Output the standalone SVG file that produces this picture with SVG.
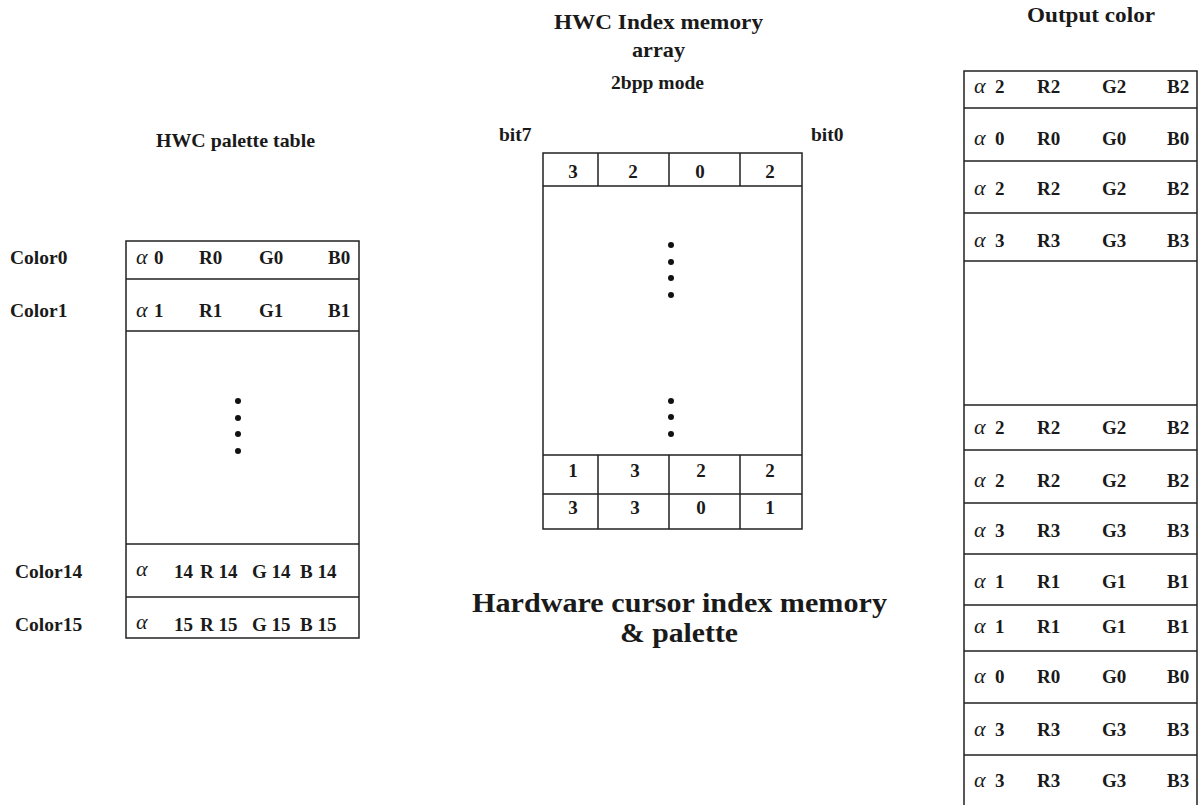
<svg xmlns="http://www.w3.org/2000/svg" width="1203" height="805" viewBox="0 0 1203 805">
<style>
.t{font-family:"Liberation Serif","Times New Roman",serif;font-weight:bold;fill:#1a1a1a;font-size:19px}
.lbl{font-size:19.5px}
.a{font-family:"Liberation Serif","Times New Roman",serif;font-style:italic;font-weight:normal;fill:#1a1a1a;font-size:22px}
.m{text-anchor:middle}
.box{fill:#fff;stroke:#222;stroke-width:1.5}
.ln{stroke:#222;stroke-width:1.5;fill:none}
.dot{fill:#111}
</style>
<rect width="1203" height="805" fill="#fff"/>
<g id="connectors"/>

<g id="palette-table">
  <text class="t lbl" x="156" y="147" textLength="159" lengthAdjust="spacingAndGlyphs">HWC palette table</text>
  <text class="t lbl" x="10" y="264">Color0</text>
  <text class="t lbl" x="10" y="317">Color1</text>
  <text class="t lbl" x="15" y="578">Color14</text>
  <text class="t lbl" x="15" y="631">Color15</text>
  <rect class="box" x="126" y="241" width="233" height="397"/>
  <path class="ln" d="M126 279H359M126 331H359M126 544H359M126 597H359"/>
  <text class="a" x="136" y="264">α</text><text class="t" x="154" y="264">0</text>
  <text class="t" x="199" y="264">R0</text><text class="t" x="259" y="264">G0</text><text class="t" x="328" y="264">B0</text>
  <text class="a" x="136" y="317">α</text><text class="t" x="154" y="317">1</text>
  <text class="t" x="199" y="317">R1</text><text class="t" x="259" y="317">G1</text><text class="t" x="328" y="317">B1</text>
  <circle class="dot" cx="238" cy="401" r="3"/><circle class="dot" cx="238" cy="418" r="3"/>
  <circle class="dot" cx="238" cy="434" r="3"/><circle class="dot" cx="238" cy="451" r="3"/>
  <text class="a" x="136" y="576">α</text>
  <text class="t" x="174" y="578">14</text><text class="t" x="200" y="578">R 14</text><text class="t" x="252" y="578">G 14</text><text class="t" x="300" y="578">B 14</text>
  <text class="a" x="136" y="629">α</text>
  <text class="t" x="174" y="631">15</text><text class="t" x="200" y="631">R 15</text><text class="t" x="252" y="631">G 15</text><text class="t" x="300" y="631">B 15</text>
</g>

<g id="index-table">
  <text class="t" style="font-size:21px" x="554" y="29" textLength="209" lengthAdjust="spacingAndGlyphs">HWC Index memory</text>
  <text class="t" style="font-size:21px" x="632" y="57" textLength="53" lengthAdjust="spacingAndGlyphs">array</text>
  <text class="t" x="611" y="89" textLength="93" lengthAdjust="spacingAndGlyphs">2bpp mode</text>
  <text class="t lbl" x="499" y="141">bit7</text>
  <text class="t lbl" x="811" y="141">bit0</text>
  <rect class="box" x="543" y="153" width="259" height="376"/>
  <path class="ln" d="M543 186H802M543 455H802M543 494H802M598 153V186M669 153V186M740 153V186M598 455V529M669 455V529M740 455V529"/>
  <text class="t m" x="573" y="178">3</text><text class="t m" x="633" y="178">2</text><text class="t m" x="700" y="178">0</text><text class="t m" x="770" y="178">2</text>
  <circle class="dot" cx="671" cy="245" r="3"/><circle class="dot" cx="671" cy="262" r="3"/>
  <circle class="dot" cx="671" cy="278" r="3"/><circle class="dot" cx="671" cy="295" r="3"/>
  <circle class="dot" cx="671" cy="401" r="3"/><circle class="dot" cx="671" cy="417" r="3"/>
  <circle class="dot" cx="671" cy="434" r="3"/>
  <text class="t m" x="573" y="477">1</text><text class="t m" x="635" y="477">3</text><text class="t m" x="701" y="477">2</text><text class="t m" x="770" y="477">2</text>
  <text class="t m" x="573" y="514">3</text><text class="t m" x="635" y="514">3</text><text class="t m" x="701" y="514">0</text><text class="t m" x="770" y="514">1</text>
</g>

<g id="main-title">
  <text class="t" style="font-size:28px" x="472" y="612" textLength="415" lengthAdjust="spacingAndGlyphs">Hardware cursor index memory</text>
  <text class="t" style="font-size:28px" x="620" y="642" textLength="118" lengthAdjust="spacingAndGlyphs">&amp; palette</text>
</g>

<g id="output-table">
  <text class="t" style="font-size:22px" x="1027" y="22" textLength="128" lengthAdjust="spacingAndGlyphs">Output color</text>
  <rect class="box" x="964" y="71" width="233" height="745"/>
  <path class="ln" d="M964 108H1197M964 161H1197M964 213H1197M964 261H1197M964 405H1197M964 450H1197M964 503H1197M964 554H1197M964 605H1197M964 651H1197M964 703H1197M964 755H1197"/>
  <g>
    <text class="a" x="974" y="93">α</text><text class="t" x="995" y="93">2</text><text class="t" x="1037" y="93">R2</text><text class="t" x="1102" y="93">G2</text><text class="t" x="1167" y="93">B2</text>
    <text class="a" x="974" y="145">α</text><text class="t" x="995" y="145">0</text><text class="t" x="1037" y="145">R0</text><text class="t" x="1102" y="145">G0</text><text class="t" x="1167" y="145">B0</text>
    <text class="a" x="974" y="195">α</text><text class="t" x="995" y="195">2</text><text class="t" x="1037" y="195">R2</text><text class="t" x="1102" y="195">G2</text><text class="t" x="1167" y="195">B2</text>
    <text class="a" x="974" y="247">α</text><text class="t" x="995" y="247">3</text><text class="t" x="1037" y="247">R3</text><text class="t" x="1102" y="247">G3</text><text class="t" x="1167" y="247">B3</text>
    <text class="a" x="974" y="434">α</text><text class="t" x="995" y="434">2</text><text class="t" x="1037" y="434">R2</text><text class="t" x="1102" y="434">G2</text><text class="t" x="1167" y="434">B2</text>
    <text class="a" x="974" y="487">α</text><text class="t" x="995" y="487">2</text><text class="t" x="1037" y="487">R2</text><text class="t" x="1102" y="487">G2</text><text class="t" x="1167" y="487">B2</text>
    <text class="a" x="974" y="537">α</text><text class="t" x="995" y="537">3</text><text class="t" x="1037" y="537">R3</text><text class="t" x="1102" y="537">G3</text><text class="t" x="1167" y="537">B3</text>
    <text class="a" x="974" y="588">α</text><text class="t" x="995" y="588">1</text><text class="t" x="1037" y="588">R1</text><text class="t" x="1102" y="588">G1</text><text class="t" x="1167" y="588">B1</text>
    <text class="a" x="974" y="633">α</text><text class="t" x="995" y="633">1</text><text class="t" x="1037" y="633">R1</text><text class="t" x="1102" y="633">G1</text><text class="t" x="1167" y="633">B1</text>
    <text class="a" x="974" y="683">α</text><text class="t" x="995" y="683">0</text><text class="t" x="1037" y="683">R0</text><text class="t" x="1102" y="683">G0</text><text class="t" x="1167" y="683">B0</text>
    <text class="a" x="974" y="736">α</text><text class="t" x="995" y="736">3</text><text class="t" x="1037" y="736">R3</text><text class="t" x="1102" y="736">G3</text><text class="t" x="1167" y="736">B3</text>
    <text class="a" x="974" y="787">α</text><text class="t" x="995" y="787">3</text><text class="t" x="1037" y="787">R3</text><text class="t" x="1102" y="787">G3</text><text class="t" x="1167" y="787">B3</text>
  </g>
</g>
</svg>
